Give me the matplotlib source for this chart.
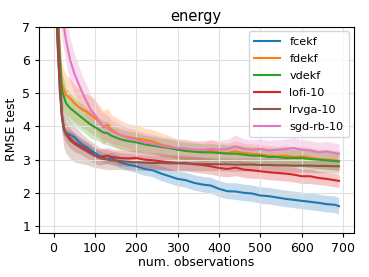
import numpy as np
import matplotlib
matplotlib.use("Agg")
import matplotlib.pyplot as plt

# number of observations (sample points)
obs = [1, 5, 10, 15, 20, 25, 30, 40, 50, 60, 70, 80, 90, 100, 110, 120, 130, 140, 160, 180,
       200, 220, 240, 260, 280, 300, 320, 340, 360, 380, 400, 420, 440, 460, 480,
       500, 520, 540, 560, 580, 600, 620, 640, 660, 680, 690]

fcekf = [9.5, 8.0, 6.4, 5.1, 4.3, 3.9, 3.8, 3.75, 3.68, 3.55, 3.45, 3.38, 3.28, 3.2, 3.12, 3.05, 3.02, 3.05, 2.92, 2.85,
         2.8, 2.72, 2.68, 2.58, 2.5, 2.42, 2.38, 2.3, 2.25, 2.22, 2.12, 2.05, 2.04, 2.0, 1.98,
         1.92, 1.9, 1.86, 1.82, 1.79, 1.76, 1.73, 1.7, 1.66, 1.64, 1.6]
fcekf_sd = [0.3, 0.3, 0.3, 0.25, 0.2, 0.15, 0.12, 0.12, 0.12, 0.12, 0.12, 0.13, 0.13, 0.14, 0.14, 0.15, 0.15, 0.16, 0.17, 0.18,
            0.2, 0.2, 0.21, 0.22, 0.22, 0.22, 0.23, 0.23, 0.23, 0.24, 0.24, 0.24, 0.25, 0.25, 0.25,
            0.25, 0.25, 0.25, 0.25, 0.25, 0.25, 0.25, 0.25, 0.25, 0.25, 0.25]

fdekf = [9.5, 8.8, 7.6, 6.2, 5.3, 5.1, 4.95, 4.85, 4.7, 4.6, 4.5, 4.45, 4.35, 4.25, 4.15, 3.98, 4.05, 3.9, 3.75, 3.68,
         3.64, 3.6, 3.55, 3.45, 3.4, 3.32, 3.3, 3.26, 3.22, 3.28, 3.22, 3.2, 3.25, 3.2, 3.18,
         3.15, 3.12, 3.1, 3.12, 3.08, 3.1, 3.06, 3.02, 3.0, 2.98, 2.96]
fdekf_sd = [0.8, 0.8, 0.8, 0.7, 0.6, 0.6, 0.6, 0.6, 0.55, 0.55, 0.55, 0.55, 0.55, 0.55, 0.5, 0.5, 0.5, 0.45, 0.45, 0.4,
            0.4, 0.35, 0.35, 0.35, 0.32, 0.3, 0.3, 0.3, 0.3, 0.32, 0.3, 0.3, 0.32, 0.3, 0.3,
            0.3, 0.3, 0.3, 0.3, 0.3, 0.3, 0.3, 0.3, 0.3, 0.3, 0.3]

vdekf = [9.5, 8.6, 7.3, 6.0, 5.1, 4.9, 4.7, 4.55, 4.45, 4.35, 4.25, 4.15, 4.05, 3.98, 3.9, 3.82, 3.8, 3.72, 3.62, 3.56,
         3.52, 3.46, 3.42, 3.38, 3.35, 3.3, 3.26, 3.24, 3.22, 3.22, 3.2, 3.18, 3.18, 3.15, 3.12,
         3.12, 3.08, 3.08, 3.05, 3.05, 3.05, 3.02, 3.0, 2.98, 2.96, 2.95]
vdekf_sd = [0.7, 0.7, 0.7, 0.6, 0.5, 0.5, 0.45, 0.45, 0.4, 0.4, 0.4, 0.4, 0.4, 0.38, 0.35, 0.35, 0.35, 0.33, 0.3, 0.3,
            0.3, 0.28, 0.28, 0.27, 0.27, 0.26, 0.26, 0.26, 0.26, 0.26, 0.26, 0.26, 0.26, 0.26, 0.26,
            0.26, 0.26, 0.26, 0.26, 0.26, 0.26, 0.26, 0.26, 0.26, 0.26, 0.26]

lofi = [9.5, 8.0, 6.5, 5.2, 4.3, 3.95, 3.8, 3.65, 3.52, 3.45, 3.38, 3.3, 3.22, 3.12, 3.08, 3.1, 3.12, 3.08, 3.05, 3.04,
        3.05, 3.0, 2.98, 2.95, 2.92, 2.9, 2.9, 2.86, 2.84, 2.8, 2.75, 2.72, 2.76, 2.7, 2.68,
        2.65, 2.62, 2.6, 2.58, 2.55, 2.5, 2.5, 2.45, 2.42, 2.38, 2.36]
lofi_sd = [0.8, 0.7, 0.6, 0.5, 0.4, 0.35, 0.3, 0.3, 0.28, 0.26, 0.25, 0.25, 0.25, 0.24, 0.24, 0.24, 0.24, 0.24, 0.24, 0.24,
           0.24, 0.24, 0.24, 0.24, 0.24, 0.24, 0.24, 0.24, 0.24, 0.24, 0.24, 0.24, 0.24, 0.24, 0.24,
           0.22, 0.22, 0.22, 0.22, 0.22, 0.22, 0.22, 0.2, 0.2, 0.2, 0.2]

lrvga = [9.5, 8.3, 7.0, 5.6, 4.4, 3.9, 3.75, 3.58, 3.48, 3.4, 3.32, 3.25, 3.18, 3.12, 3.06, 3.02, 3.0, 2.98, 2.96, 2.94,
         2.92, 2.91, 2.9, 2.9, 2.89, 2.89, 2.88, 2.88, 2.87, 2.87, 2.86, 2.86, 2.85, 2.85, 2.85,
         2.84, 2.84, 2.83, 2.83, 2.82, 2.82, 2.82, 2.81, 2.81, 2.8, 2.8]
lrvga_sd = [1.0, 1.0, 0.9, 0.8, 0.6, 0.55, 0.55, 0.55, 0.55, 0.5, 0.45, 0.4, 0.38, 0.35, 0.32, 0.3, 0.3, 0.28, 0.26, 0.25,
            0.24, 0.23, 0.22, 0.22, 0.22, 0.21, 0.21, 0.21, 0.2, 0.2, 0.2, 0.2, 0.2, 0.2, 0.2,
            0.2, 0.2, 0.2, 0.2, 0.2, 0.2, 0.2, 0.2, 0.2, 0.2, 0.2]

sgd_rb = [10.0, 9.5, 8.8, 8.0, 7.4, 7.0, 6.6, 6.0, 5.6, 5.3, 5.0, 4.75, 4.5, 4.35, 4.15, 4.0, 3.95, 3.85, 3.75, 3.65,
          3.6, 3.52, 3.48, 3.42, 3.38, 3.35, 3.33, 3.3, 3.3, 3.32, 3.3, 3.32, 3.4, 3.32, 3.3,
          3.32, 3.28, 3.3, 3.32, 3.35, 3.3, 3.28, 3.22, 3.25, 3.2, 3.18]
sgd_rb_sd = [0.8, 0.8, 0.8, 0.8, 0.75, 0.7, 0.7, 0.65, 0.6, 0.55, 0.5, 0.5, 0.45, 0.45, 0.4, 0.4, 0.38, 0.35, 0.32, 0.3,
             0.3, 0.28, 0.28, 0.27, 0.27, 0.27, 0.27, 0.27, 0.28, 0.28, 0.28, 0.3, 0.35, 0.3, 0.3,
             0.3, 0.3, 0.3, 0.3, 0.32, 0.3, 0.3, 0.3, 0.3, 0.3, 0.3]

series = [("fcekf", fcekf, fcekf_sd, "tab:blue"),
          ("fdekf", fdekf, fdekf_sd, "tab:orange"),
          ("vdekf", vdekf, vdekf_sd, "tab:green"),
          ("lofi-10", lofi, lofi_sd, "tab:red"),
          ("lrvga-10", lrvga, lrvga_sd, "tab:brown"),
          ("sgd-rb-10", sgd_rb, sgd_rb_sd, "tab:pink")]

fig = plt.figure(figsize=(3.69, 2.77), dpi=100)
ax = fig.add_axes([0.106, 0.16, 0.852, 0.743])

x = np.array(obs)
for name, m, sd, c in series:
    m = np.array(m)
    sd = np.array(sd)
    ax.fill_between(x, m - sd, m + sd, color=c, alpha=0.25, linewidth=0)
    ax.plot(x, m, color=c, linewidth=1.5, label=name)

ax.set_xlim(-35, 725)
ax.set_ylim(0.8, 7)
ax.set_xticks([0, 100, 200, 300, 400, 500, 600, 700])
ax.set_yticks([1, 2, 3, 4, 5, 6, 7])
ax.tick_params(labelsize=9, length=3)
ax.grid(True, color="#e0e0e0", linewidth=0.8)
ax.set_xlabel("num. observations", fontsize=9, labelpad=1)
ax.set_ylabel("RMSE test", fontsize=9, labelpad=3)
ax.set_title("energy", fontsize=10.5, pad=4)
ax.legend(loc="upper right", fontsize=8.1, handlelength=2.3, labelspacing=0.62,
          borderpad=0.5, framealpha=0.8, borderaxespad=0.4)

fig.savefig("out.png", dpi=100)
